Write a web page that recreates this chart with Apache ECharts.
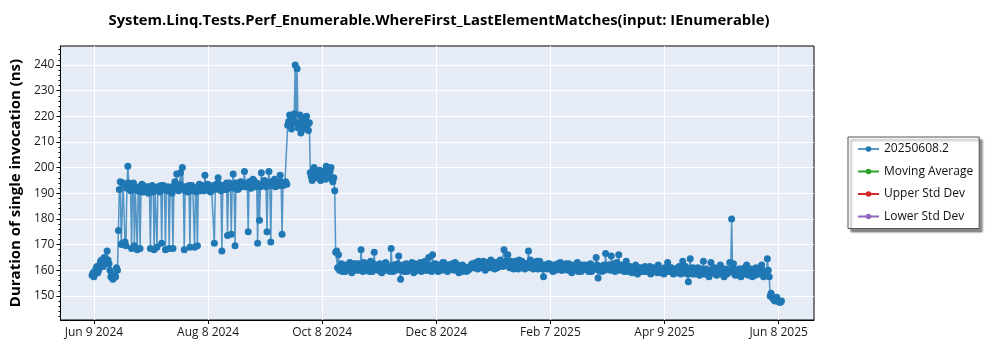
<!DOCTYPE html>
<html><head><meta charset="utf-8">
<script src="https://cdn.jsdelivr.net/npm/echarts@6/dist/echarts.min.js"></script>
<style>html,body{margin:0;padding:0;background:#fff}#c{width:1000px;height:350px}</style>
</head><body><div id="c"></div>
<script>
const chartTitle = 'System.Linq.Tests.Perf_Enumerable.WhereFirst_LastElementMatches(input: IEnumerable)';
const yAxisTitle = 'Duration of single invocation (ns)';
const seriesNames = ['20250608.2', 'Moving Average', 'Upper Std Dev', 'Lower Std Dev'];
const seriesColors = ['#1f77b4', '#2ca02c', '#d62728', '#9467bd'];
const axisOriginDate = '2024-06-09';
const firstRunDate = '2024-06-08';
// two runs per day (morning / evening), starting at firstRunDate, ns
const morningRuns = [
  158, 157.5, 160.5, 159, 162, 164, 161.5, 164.5, 167.5, 162.5,
  157.5, 156.5, 158, 161, 175.5, 194.5, 170.5, 193.5, 169.5, 200.5,
  192, 168.5, 194, 191.5, 168, 192.5, 190.5, 193, 191, 192.5,
  190, 168.5, 193, 168, 191.5, 192.5, 190.5, 170.5, 193, 168,
  191, 168.5, 192, 168.5, 194.5, 197.5, 191, 198, 200, 168,
  192.5, 190.5, 169, 193, 191.5, 192, 169.5, 193.5, 191, 192.5,
  197, 191.5, 193, 190.5, 192, 170.5, 193.5, 196, 192, 167.5,
  193, 191.5, 173.5, 194, 174, 197.5, 169.5, 193, 192, 194.5,
  193, 198.5, 192.5, 175, 194, 193, 195, 192.5, 170.5, 179.5,
  198, 193.5, 194.5, 175, 198.5, 171, 194, 195.5, 193.5, 194,
  197, 174, 193.5, 194.5, 216.5, 220.5, 215, 218.5, 240, 238.5,
  217, 213.5, 219.5, 216, 220, 214.5, 198, 195, 200, 197.5,
  196, 199, 196.5, 198, 195.5, 199.5, 197, 200, 194.5, 191,
  167.5, 166, 161, 159.5, 162, 160, 161.5, 163, 159, 160.5,
  162.5, 160, 161.5, 168, 159.5, 162, 160.5, 161, 163.5, 159.5,
  167, 161, 160, 162.5, 159, 161.5, 163, 160, 161, 168.5,
  159.5, 162, 160.5, 165.5, 156.5, 161, 159.5, 162.5, 160, 161.5,
  163, 159, 161, 160, 162.5, 159.5, 161.5, 163.5, 160, 165,
  161, 166, 160.5, 162, 159.5, 161.5, 160, 163, 161, 159.5,
  162, 160.5, 161.5, 163, 160, 159, 160.5, 162, 160.5, 159.5, 160,
  161, 162.5, 161, 163, 160.5, 162, 161.5, 163.5, 160, 162.5,
  161, 164, 162, 160.5, 163, 161.5, 164, 162, 168, 163.5,
  166, 161, 162.5, 160.5, 163.5, 162, 164, 161, 163, 160.5,
  162.5, 167.5, 164, 161.5, 163, 162, 160.5, 163.5, 161, 157.5,
  162, 160.5, 162.5, 161, 159.5, 162, 160.5, 161.5, 163, 160,
  161, 162.5, 160, 161.5, 159, 162, 160.5, 163, 161, 159.5,
  162, 160.5, 161.5, 159.5, 162.5, 160, 161, 165, 157, 161.5,
  159.5, 162, 166.5, 160.5, 162, 165.5, 161, 159.5, 163, 166,
  160.5, 161.5, 159.5, 163.5, 160, 161.5, 159, 160.5, 162, 158.5,
  161, 160, 159.5, 161.5, 160, 160, 158.5, 161, 159.5, 160.5, 162,
  159, 160.5, 158.5, 160, 163, 159.5, 161, 158.5, 160, 159,
  161.5, 158.5, 163.5, 160, 159.5, 155.5, 164.5, 158.5, 160.5, 159,
  161, 158, 160.5, 163.5, 158.5, 160, 157.5, 163, 159.5, 161,
  158, 160, 162, 158.5, 157.5, 160.5, 159, 163, 180, 162.5,
  158, 160, 160.5, 157.5, 159.5, 161, 162, 158, 160, 157.5,
  159.5, 161, 158.5, 160, 162, 157.5, 159.5, 164.5, 157.5, 151,
  149, 148, 149.5, 148, 147.5
];
const eveningRuns = [
  159, 158.5, 161.5, 160, 163.5, 162, 165, 163, 164, 160,
  158.5, 157, 157.5, 160, 191.5, 170, 194, 171, 192, 194,
  191, 193, 169.5, 192, 191, 168.5, 193.5, 190.5, 192, 191,
  192.5, 191, 190.5, 192, 169, 191, 193, 191.5, 192, 191.5,
  192.5, 191, 190, 193, 192, 191.5, 193.5, 192, 192.5, 191,
  191.5, 193, 191, 192, 169, 190.5, 192.5, 191.5, 193, 191,
  192, 193.5, 191, 192.5, 193, 191.5, 192, 193.5, 191, 192.5,
  191.5, 194, 192, 192.5, 193, 192, 194, 191.5, 193.5, 192.5,
  194, 192.5, 193.5, 194.5, 192, 195.5, 193, 194, 193.5, 192.5,
  193.5, 195, 192.5, 194, 193, 194.5, 193, 192.5, 194.5, 193,
  194.5, 193, 194, 193.5, 218, 216.5, 219, 221, 217.5, 215.5,
  220.5, 218, 215, 219, 216.5, 217.5, 196.5, 199, 196, 198.5,
  197.5, 195, 198.5, 196.5, 200.5, 196, 198.5, 195.5, 196, 167,
  161, 160, 162.5, 161, 159.5, 162, 160.5, 161, 162.5, 160,
  161, 162.5, 160, 161.5, 163, 160, 162, 159.5, 161, 162.5,
  160.5, 162, 161, 159.5, 161.5, 160, 162.5, 161, 159.5, 161.5,
  162, 160, 162.5, 161, 160, 162, 161.5, 159.5, 162, 160.5,
  161, 162.5, 160, 161.5, 163, 160.5, 162, 160, 161.5, 162,
  159.5, 161.5, 162.5, 160, 162, 160.5, 163, 161.5, 160, 162,
  161, 162.5, 160, 161.5, 162, 160.5, 159.5, 160, 161, 161, 160.5,
  162, 161, 162.5, 161.5, 163.5, 161, 162.5, 161, 163, 161.5,
  162.5, 161, 163, 162.5, 161, 163.5, 162, 161.5, 163, 162,
  162, 163.5, 161.5, 163, 162, 160.5, 162.5, 163.5, 161.5, 162.5,
  161, 162.5, 163, 160.5, 162, 163.5, 161.5, 162, 160.5, 162,
  161, 162.5, 160.5, 162, 161.5, 160, 162.5, 161, 160, 162,
  160.5, 161, 162.5, 160.5, 161.5, 160, 161.5, 159.5, 162, 161,
  160.5, 162, 160, 161.5, 159.5, 161.5, 160.5, 162, 160, 161,
  161, 160, 161.5, 162, 160, 161, 162.5, 160.5, 161, 160,
  162, 160, 161.5, 159.5, 161.5, 160, 161, 159.5, 160.5, 160,
  159.5, 161, 160.5, 159.5, 159.5, 161.5, 160, 159.5, 161, 159, 160.5,
  160.5, 159, 161, 159.5, 160.5, 161, 159.5, 160.5, 159, 161,
  159.5, 160.5, 159, 161.5, 158.5, 160.5, 159, 161, 158.5, 160,
  159.5, 160.5, 159, 158.5, 160.5, 158.5, 160, 159, 160.5, 158.5,
  160, 159, 158.5, 160.5, 159.5, 158.5, 160, 159.5, 161, 158.5,
  159.5, 158, 160.5, 159, 158.5, 160, 159, 158.5, 160.5, 159,
  158, 160.5, 159, 158.5, 160, 159.5, 158, 160, 150, 149.5,
  148.5, 149, 148, 147.5, 148
];
const tickLabels = ['Jun 9 2024', 'Aug 8 2024', 'Oct 8 2024', 'Dec 8 2024', 'Feb 7 2025', 'Apr 9 2025', 'Jun 8 2025'];
const tickDays = [0, 60.667, 121.333, 182, 242.667, 303.333, 364];
const yTickValues = [150, 160, 170, 180, 190, 200, 210, 220, 230, 240];

const DAY = 86400000;
const firstOffset = (Date.parse(firstRunDate) - Date.parse(axisOriginDate)) / DAY;
const mainData = [];
morningRuns.forEach((v, i) => {
  mainData.push([firstOffset + i, v]);
  if (i < eveningRuns.length) mainData.push([firstOffset + i + 0.5, eveningRuns[i]]);
});
const yMinor = [];
for (let v = 142; v <= 246; v += 2) yMinor.push(v);

const FONT = 'Open Sans';
const chart = echarts.init(document.getElementById('c'), null, { renderer: 'canvas' });
const yMin = 140.6, yMax = 247.4;
chart.setOption({
  animation: false,
  backgroundColor: '#fff',
  textStyle: { fontFamily: FONT },
  title: {
    text: chartTitle, left: 434, top: 8, textAlign: 'center',
    textStyle: { fontFamily: FONT, fontSize: 14.8, fontWeight: 'bold', color: '#000' }
  },
  grid: {
    left: 55, right: 186, top: 46, bottom: 30, show: true,
    backgroundColor: '#e5ecf6', borderColor: '#000', borderWidth: 1
  },
  legend: {
    orient: 'vertical', left: 848, top: 137,
    data: seriesNames,
    itemWidth: 21, itemHeight: 7, itemGap: 8.5,
    padding: [5, 6, 5, 9],
    backgroundColor: '#fff', borderColor: '#555', borderWidth: 1, borderRadius: 0,
    shadowColor: 'rgba(0,0,0,0.45)', shadowBlur: 2, shadowOffsetX: 3, shadowOffsetY: 3,
    textStyle: { fontFamily: FONT, fontSize: 12, color: '#111', lineHeight: 14 }
  },
  xAxis: {
    type: 'value', min: -17.8, max: 382.8,
    axisLine: { onZero: false, lineStyle: { color: '#000', width: 1 } },
    axisTick: { show: true, length: 4, lineStyle: { color: '#000' }, customValues: tickDays },
    axisLabel: {
      customValues: tickDays, color: '#1a1a1a', fontSize: 12, fontFamily: FONT, margin: 7,
      formatter: v => { const k = tickDays.findIndex(t => Math.abs(t - v) < 0.01); return k >= 0 ? tickLabels[k] : ''; }
    },
    splitLine: { show: true, lineStyle: { color: '#fff', width: 1 } }
  },
  yAxis: [{
    type: 'value', min: yMin, max: yMax,
    name: yAxisTitle, nameLocation: 'middle', nameGap: 35,
    nameTextStyle: { fontFamily: FONT, fontSize: 15, fontWeight: 'bold', color: '#000' },
    axisLine: { show: true, onZero: false, lineStyle: { color: '#000', width: 1 } },
    axisTick: { show: true, length: 4, lineStyle: { color: '#000' }, customValues: yTickValues },
    axisLabel: { customValues: yTickValues, color: '#1a1a1a', fontSize: 12, fontFamily: FONT, margin: 6 },
    splitLine: { show: true, lineStyle: { color: '#fff', width: 1 } }
  }, {
    type: 'value', min: yMin, max: yMax, position: 'left',
    axisLine: { show: false, onZero: false },
    axisTick: { show: true, length: 2, lineStyle: { color: '#000' }, customValues: yMinor },
    axisLabel: { show: false },
    splitLine: { show: false }
  }],
  series: [
    {
      name: seriesNames[0], type: 'line', data: mainData,
      color: seriesColors[0], symbol: 'circle', symbolSize: 7, showSymbol: true,
      lineStyle: { width: 1.5, opacity: 0.75 }, itemStyle: { color: seriesColors[0] }
    },
    { name: seriesNames[1], type: 'line', data: [], color: seriesColors[1], symbol: 'circle' },
    { name: seriesNames[2], type: 'line', data: [], color: seriesColors[2], symbol: 'circle' },
    { name: seriesNames[3], type: 'line', data: [], color: seriesColors[3], symbol: 'circle' }
  ]
});
</script></body></html>
